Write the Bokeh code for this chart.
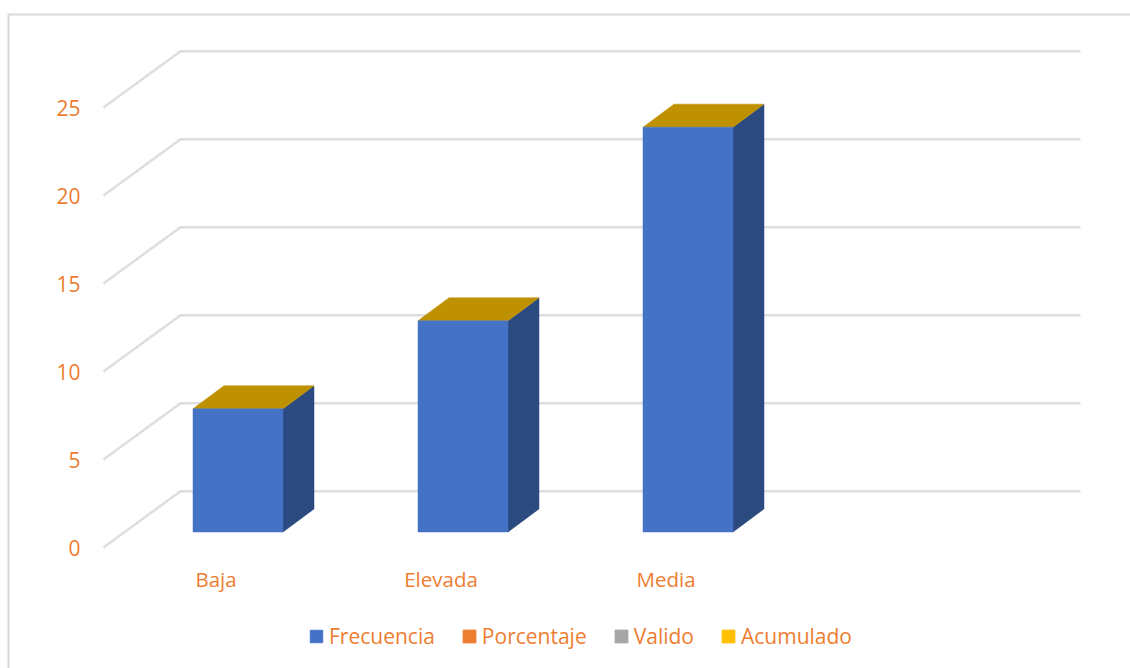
from bokeh.plotting import figure
from bokeh.models import FixedTicker, Legend, LegendItem, Range1d
from bokeh.embed import file_html
from bokeh.resources import INLINE

categories = ["Baja", "Elevada", "Media", ""]
frecuencia = [7, 12, 23]
value_ticks = [0, 5, 10, 15, 20, 25]
legend_names = ["Frecuencia", "Porcentaje", "Valido", "Acumulado"]
legend_colors = ["#4472C4", "#ED7D31", "#A5A5A5", "#FFC000"]

ORANGE = "#ED7D31"
GRID = "#DEDEDE"
SIDE = "#2A4A80"
TOP = "#BF9000"
SLOT_PX = 225
UNIT_PX = 17.6

FLOOR_DX, FLOOR_DY = 77 / SLOT_PX, 3.2     # full depth of the 3D floor
BAR_SHIFT_X, BAR_SHIFT_Y = 22 / SLOT_PX, 0.88   # bar front face, from the front plane
BAR_DX, BAR_DY = 31 / SLOT_PX, 1.31        # depth of a bar
BAR_W = 0.4

p = figure(width=1130, height=668, output_backend="svg", toolbar_location=None,
           x_range=Range1d(-103 / SLOT_PX, 1027 / SLOT_PX),
           y_range=Range1d(-121 / UNIT_PX, 547 / UNIT_PX),
           min_border=0)
p.outline_line_color = None
p.xgrid.visible = False
p.ygrid.visible = False

# chart frame, running off the right and bottom edges
p.line([-95 / SLOT_PX, -95 / SLOT_PX, 1040 / SLOT_PX],
       [-140 / UNIT_PX, 533 / UNIT_PX, 533 / UNIT_PX],
       line_color="#D9D9D9", line_width=2, line_join="miter")

# value axis
ya = p.yaxis[0]
ya.fixed_location = -9 / SLOT_PX
ya.ticker = FixedTicker(ticks=value_ticks)
ya.axis_line_color = None
ya.major_tick_line_color = None
ya.minor_tick_line_color = None
ya.major_label_text_color = ORANGE
ya.major_label_text_font = "Open Sans"
ya.major_label_text_font_size = "21px"
ya.major_label_standoff = 8

# category axis
xa = p.xaxis[0]
xa.fixed_location = -3 / UNIT_PX
slots = [i + 0.5 for i in range(len(categories))]
xa.ticker = FixedTicker(ticks=slots)
xa.major_label_overrides = {s: c for s, c in zip(slots, categories)}
xa.axis_line_color = None
xa.major_tick_line_color = None
xa.minor_tick_line_color = None
xa.major_label_text_color = ORANGE
xa.major_label_text_font = "Open Sans"
xa.major_label_text_font_size = "20.5px"
xa.major_label_standoff = 8

# gridlines: side wall + back wall
n = len(categories)
for v in value_ticks:
    p.line([0, FLOOR_DX, n + FLOOR_DX], [v, v + FLOOR_DY, v + FLOOR_DY],
           line_color=GRID, line_width=2.5, line_join="miter")

# 3D bars
lefts = [i + 0.5 + BAR_SHIFT_X - BAR_W / 2 for i in range(len(frecuencia))]
rights = [l + BAR_W for l in lefts]
tops = [v + BAR_SHIFT_Y for v in frecuencia]
side_xs = [[r, r + BAR_DX, r + BAR_DX, r] for r in rights]
side_ys = [[BAR_SHIFT_Y, BAR_SHIFT_Y + BAR_DY, t + BAR_DY, t] for t in tops]
top_xs = [[l, l + BAR_DX, r + BAR_DX, r] for l, r in zip(lefts, rights)]
top_ys = [[t, t + BAR_DY, t + BAR_DY, t] for t in tops]
p.patches(side_xs, side_ys, fill_color=SIDE, line_color=SIDE, line_width=0.5)
p.patches(top_xs, top_ys, fill_color=TOP, line_color=TOP, line_width=0.5)
front = p.quad(left=lefts, right=rights, bottom=[BAR_SHIFT_Y] * len(tops), top=tops,
               fill_color=legend_colors[0], line_color=legend_colors[0], line_width=0.5)

# legend: the other three series draw nothing in the chart
nan = float("nan")
renderers = [front]
for c in legend_colors[1:]:
    renderers.append(p.quad(left=[nan], right=[nan], bottom=[nan], top=[nan],
                            fill_color=c, line_color=c))
legend = Legend(items=[LegendItem(label=nm, renderers=[r], index=0) for nm, r in zip(legend_names, renderers)],
                orientation="horizontal", location=(308, 18), glyph_width=16, glyph_height=16,
                label_standoff=5, spacing=26, padding=0, margin=0,
                border_line_color=None, background_fill_alpha=0,
                label_text_color=ORANGE, label_text_font="Open Sans",
                label_text_font_size="21px")
p.add_layout(legend)

open("out.html", "w").write(file_html(p, INLINE))
